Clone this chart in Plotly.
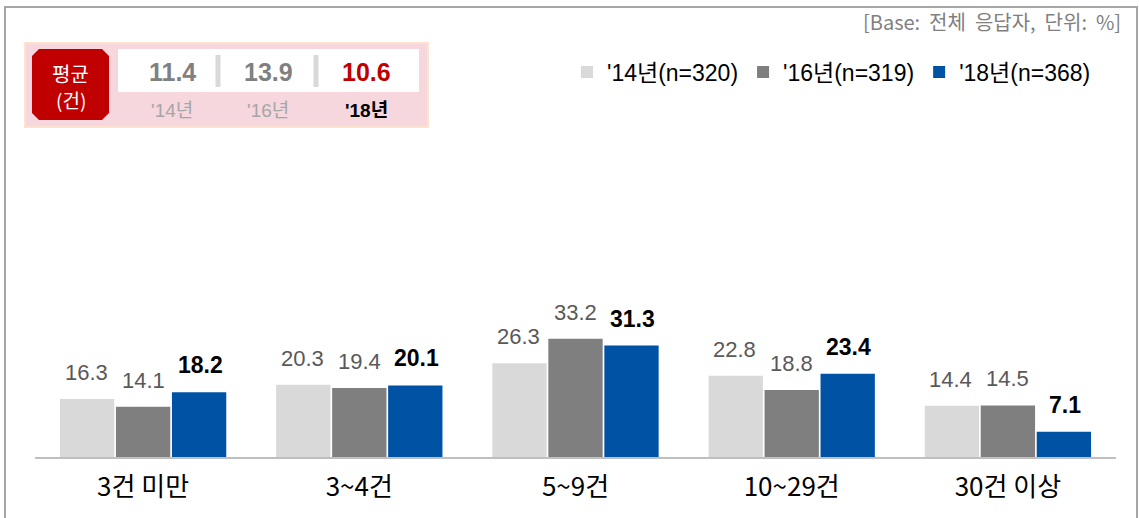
import plotly.graph_objects as go

categories = ["3건 미만", "3~4건", "5~9건", "10~29건", "30건 이상"]
series_names = ["'14년(n=320)", "'16년(n=319)", "'18년(n=368)"]
v14 = [16.3, 20.3, 26.3, 22.8, 14.4]
v16 = [14.1, 19.4, 33.2, 18.8, 14.5]
v18 = [18.2, 20.1, 31.3, 23.4, 7.1]
avg_years = ["'14년", "'16년", "'18년"]
avg_values = [11.4, 13.9, 10.6]

colors = ["#d9d9d9", "#7f7f7f", "#0052a4"]
W, H = 1139, 518
L, R, T, B = 35, 23, 101, 61
PW = W - L - R
PH = H - T - B
FONT = "Liberation Sans, Arial, Noto Sans CJK KR, sans-serif"
KFONT = "Noto Sans CJK KR, Liberation Sans, sans-serif"


def px(x):
    return (x - L) / PW


def py(y):
    return (H - B - y) / PH


fig = go.Figure()
for name, vals, c in zip(series_names, [v14, v16, v18], colors):
    fig.add_trace(go.Bar(x=categories, y=vals, name=name, marker=dict(color=c, line=dict(width=0)),
                         hoverinfo="x+y"))

annotations = []
offsets = [-57, 0, 57]
for i, vals in enumerate([v14, v16, v18]):
    for cat, v in zip(categories, vals):
        if i < 2:
            f = dict(family=FONT, size=22, color="#595959")
        else:
            f = dict(family=FONT, size=23, color="#000000", weight="bold")
        annotations.append(dict(x=cat, y=v, xref="x", yref="y", text=f"{v:.1f}", showarrow=False,
                                xshift=offsets[i], yshift=12, xanchor="center", yanchor="bottom", font=f))

# note top right
annotations.append(dict(x=px(1123), y=py(22), xref="paper", yref="paper", xanchor="right", yanchor="middle",
                        text="[Base:&nbsp;&nbsp;전체&nbsp;&nbsp;응답자,&nbsp;&nbsp;단위:&nbsp;&nbsp;%]", showarrow=False,
                        font=dict(family=KFONT, size=20, color="#808080")))

shapes = []
# outer frame
shapes.append(dict(type="rect", xref="paper", yref="paper", x0=px(5), x1=px(1137), y0=py(540), y1=py(7),
                   line=dict(color="#a6a6a6", width=2), fillcolor="rgba(0,0,0,0)", layer="below"))
# average box
shapes.append(dict(type="rect", xref="paper", yref="paper", x0=px(25), x1=px(428), y0=py(127), y1=py(43),
                   line=dict(color="#fde3cf", width=2), fillcolor="#f5d7dd", layer="below"))
# red octagon
x0, x1, y0, y1, c = 32, 109, 49, 120, 7
pts = [(x0 + c, y0), (x1 - c, y0), (x1, y0 + c), (x1, y1 - c), (x1 - c, y1), (x0 + c, y1), (x0, y1 - c), (x0, y0 + c)]
path = "M " + " L ".join(f"{px(a):.5f},{py(b):.5f}" for a, b in pts) + " Z"
shapes.append(dict(type="path", xref="paper", yref="paper", path=path, fillcolor="#c00000",
                   line=dict(width=0), layer="below"))
# white box
shapes.append(dict(type="rect", xref="paper", yref="paper", x0=px(118), x1=px(419), y0=py(92), y1=py(49),
                   line=dict(width=0), fillcolor="#ffffff", layer="below"))
for sx in [218, 316]:
    shapes.append(dict(type="line", xref="paper", yref="paper", x0=px(sx), x1=px(sx), y0=py(87), y1=py(55),
                       line=dict(color="#d9d9d9", width=5)))

annotations.append(dict(x=px(70.5), y=py(73), xref="paper", yref="paper", text="평균", showarrow=False,
                        xanchor="center", yanchor="middle",
                        font=dict(family=KFONT, size=20, color="#ffffff")))
annotations.append(dict(x=px(70.5), y=py(100), xref="paper", yref="paper", text="(건)", showarrow=False,
                        xanchor="center", yanchor="middle",
                        font=dict(family=KFONT, size=19, color="#ffffff")))
avg_x = [172, 268, 366]
for i, (yr, val, ax) in enumerate(zip(avg_years, avg_values, avg_x)):
    last = i == 2
    annotations.append(dict(x=px(ax), y=py(72), xref="paper", yref="paper", text=f"{val:.1f}", showarrow=False,
                            xanchor="center", yanchor="middle",
                            font=dict(family=FONT, size=25, weight="bold", color="#c00000" if last else "#808080")))
    annotations.append(dict(x=px(ax), y=py(110), xref="paper", yref="paper", text=yr, showarrow=False,
                            xanchor="center", yanchor="middle",
                            font=dict(family=FONT, size=19, weight="bold" if last else "normal",
                                      color="#000000" if last else "#a6a6a6")))

fig.update_layout(
    width=W, height=H,
    margin=dict(l=L, r=R, t=T, b=B, pad=0),
    paper_bgcolor="#ffffff", plot_bgcolor="#ffffff",
    barmode="group", bargap=0.223, bargroupgap=0.03,
    showlegend=True,
    legend=dict(orientation="h", x=px(1096), xanchor="right", y=py(72), yanchor="middle",
                font=dict(family=FONT, size=23, color="#000000"), itemwidth=30,
                bgcolor="rgba(0,0,0,0)", traceorder="normal"),
    xaxis=dict(showgrid=False, showline=True, linecolor="#bfbfbf", linewidth=2, ticks="",
               tickfont=dict(family=KFONT, size=26, color="#000000"), ticklabelstandoff=6),
    yaxis=dict(range=[0, 100], visible=False, showgrid=False),
    annotations=annotations,
    shapes=shapes,
)

fig.write_html("out.html", config={"displayModeBar": False},
               post_script="document.body.style.margin='0';document.body.style.padding='0';")
